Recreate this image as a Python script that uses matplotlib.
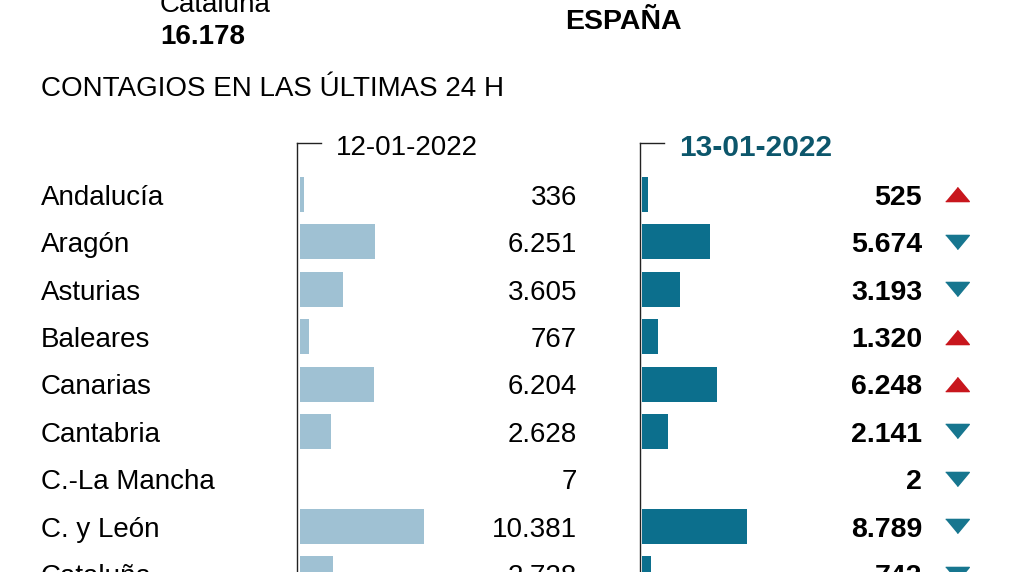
import matplotlib.pyplot as plt
from matplotlib.transforms import blended_transform_factory

# data
regions = ["Andalucía", "Aragón", "Asturias", "Baleares", "Canarias",
           "Cantabria", "C.-La Mancha", "C. y León", "Cataluña"]
cases_prev = [336, 6251, 3605, 767, 6204, 2628, 7, 10381, 2728]
cases_now = [525, 5674, 3193, 1320, 6248, 2141, 2, 8789, 742]
date_prev = "12-01-2022"
date_now = "13-01-2022"

LIGHT = "#9fc1d3"
DARK = "#0c6f8d"
TEAL_TXT = "#0c566b"
UP_C = "#c8161d"
DOWN_C = "#17768f"

W, H = 1016, 572


def fx(px):
    return px / W


def fy(py):
    return 1 - py / H


def fmt(v):
    return f"{v:,}".replace(",", ".")


plt.rcParams['font.family'] = ['Liberation Sans', 'DejaVu Sans']

fig = plt.figure(figsize=(W / 100, H / 100), dpi=100)

# header texts (cut at top of the frame)
fig.text(fx(160), fy(12), "Cataluña", fontsize=20, va='baseline')
fig.text(fx(160), fy(44), "16.178", fontsize=20, fontweight='bold',
         va='baseline')
fig.text(fx(565), fy(29), "ESPAÑA", fontsize=20.5, fontweight='bold',
         va='baseline')
fig.text(fx(41), fy(96), "CONTAGIOS EN LAS ÚLTIMAS 24 H", fontsize=20,
         va='baseline')

k = 0.01197        # px per case
pitch = 47.4       # px per row
y0 = 194.4         # px centre of first row
top_px, bot_px = 143.3, 620
base = 10.5 / pitch   # baseline offset below row centre


def make_axes(left_px, gap_px):
    ax = fig.add_axes([fx(left_px), fy(bot_px), fx(300), (bot_px - top_px) / H])
    ax.set_xlim(-gap_px / k, (300 - gap_px) / k)
    ax.set_ylim((bot_px - y0) / pitch, (top_px - y0) / pitch)
    for s in ['top', 'right', 'bottom']:
        ax.spines[s].set_visible(False)
    ax.spines['left'].set_linewidth(1.0)
    ax.spines['left'].set_color('#222222')
    ax.set_xticks([])
    ax.set_yticks([])
    ax.patch.set_alpha(0)
    ax.plot([0, 24 / 300], [1, 1], transform=ax.transAxes, color='#222222',
            lw=1.0, clip_on=False)
    return ax


ax1 = make_axes(297, 3)
ax2 = make_axes(640, 2)

ypos = list(range(len(regions)))
ax1.barh(ypos, cases_prev, height=35 / pitch, color=LIGHT)
ax2.barh(ypos, cases_now, height=35 / pitch, color=DARK)

fig.text(fx(336), fy(155), date_prev, fontsize=20, va='baseline')
fig.text(fx(679), fy(155.5), date_now, fontsize=21.5, va='baseline',
         fontweight='bold', color=TEAL_TXT)

tr = blended_transform_factory(fig.transFigure, ax1.transData)
up = [(-1, -0.6), (1, -0.6), (0, 0.6)]
down = [(-1, 0.6), (1, 0.6), (0, -0.6)]
for i, name in enumerate(regions):
    fig.text(fx(41), i + base, name, transform=tr, fontsize=20, va='baseline')
    fig.text(fx(577), i + base, fmt(cases_prev[i]), transform=tr, fontsize=20,
             va='baseline', ha='right')
    fig.text(fx(922), i + base, fmt(cases_now[i]), transform=tr, fontsize=20.5,
             va='baseline', ha='right', fontweight='bold')
    rising = cases_now[i] > cases_prev[i]
    ax1.plot([fx(957)], [i], transform=tr, linestyle='none',
             marker=up if rising else down, markersize=17,
             color=UP_C if rising else DOWN_C, clip_on=False)

fig.savefig("out.png", dpi=100)
